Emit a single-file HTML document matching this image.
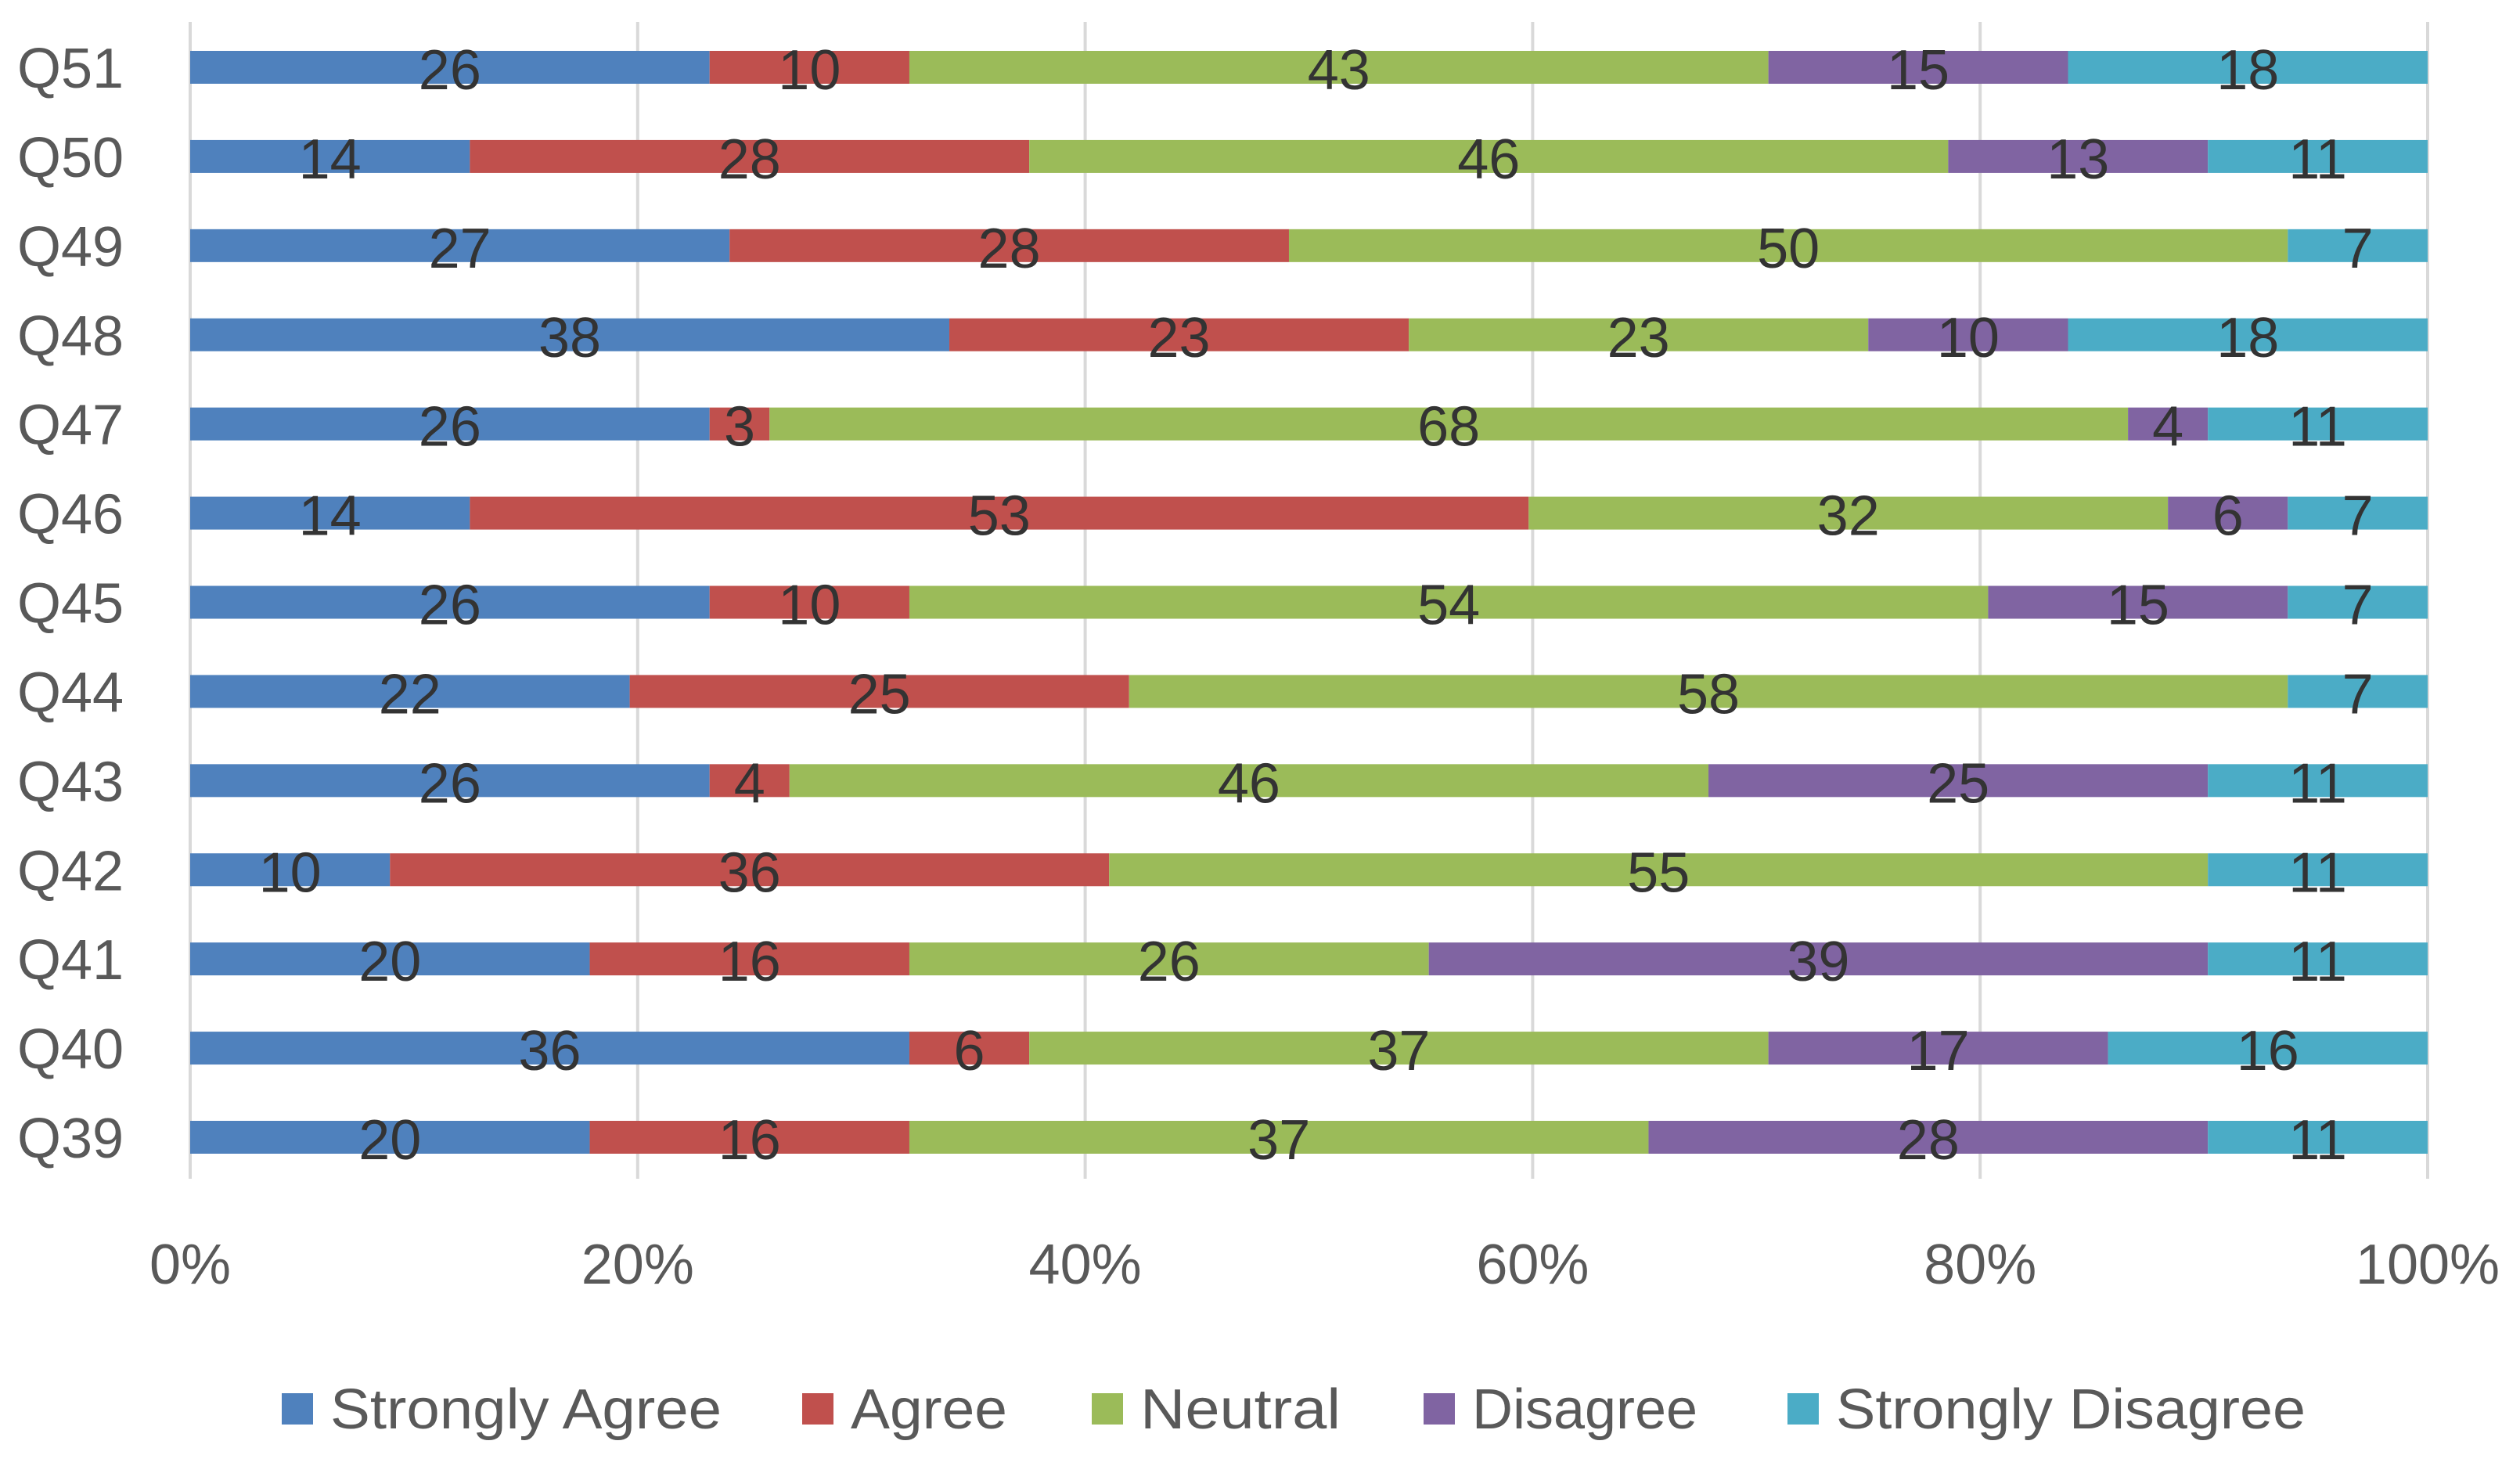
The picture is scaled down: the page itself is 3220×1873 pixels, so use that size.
<!DOCTYPE html>
<html><head><meta charset="utf-8"><style>
html,body{margin:0;padding:0;background:#fff;}
svg{display:block;font-family:"Liberation Sans",sans-serif;}
</style></head><body>
<svg id="chart" width="3220" height="1873" viewBox="0 0 3220 1873" xmlns="http://www.w3.org/2000/svg"></svg>
<script>
const categories = ["Q51","Q50","Q49","Q48","Q47","Q46","Q45","Q44","Q43","Q42","Q41","Q40","Q39"];
const seriesNames = ["Strongly Agree","Agree","Neutral","Disagree","Strongly Disagree"];
const stronglyAgree = [26,14,27,38,26,14,26,22,26,10,20,36,20];
const agree = [10,28,28,23,3,53,10,25,4,36,16,6,16];
const neutral = [43,46,50,23,68,32,54,58,46,55,26,37,37];
const disagree = [15,13,0,10,4,6,15,0,25,0,39,17,28];
const stronglyDisagree = [18,11,7,18,11,7,7,7,11,11,11,16,11];
const tickLabels = ["0%","20%","40%","60%","80%","100%"];
const tickValues = [0,20,40,60,80,100];

const series = [stronglyAgree, agree, neutral, disagree, stronglyDisagree];
const colors = ["#4F81BD","#C0504D","#9BBB59","#8064A2","#4BACC6"];
const svg = document.getElementById('chart');
const NS = "http://www.w3.org/2000/svg";
const X0 = 243, X1 = 3102, TOP = 28, BOT = 1506;
const firstY = 86, lastY = 1453, barH = 42;
function xScale(p){ return X0 + (X1 - X0) * p / 100; }
function yScale(i){ return firstY + (lastY - firstY) * i / (categories.length - 1); }
function mk(tag, attrs){ const e = document.createElementNS(NS, tag); for (const k in attrs) e.setAttribute(k, attrs[k]); svg.appendChild(e); return e; }

tickValues.forEach((v, i) => {
  const g = mk('line', {x1: xScale(v), x2: xScale(v), y1: TOP, y2: BOT, stroke: '#d9d9d9', 'stroke-width': 4});
  
  
  const t = mk('text', {x: xScale(v), y: 1640, 'text-anchor': 'middle', 'font-size': 72, fill: '#595959'});
  t.textContent = tickLabels[i];
  
  
});

categories.forEach((cat, i) => {
  const yc = yScale(i);
  const total = series.reduce((s, arr) => s + arr[i], 0);
  const cl = mk('text', {x: 22, y: yc + 26, 'font-size': 72, fill: '#595959'});
  cl.textContent = cat;
  
  
  let acc = 0;
  series.forEach((arr, s) => {
    const v = arr[i];
    if (v <= 0) return;
    const a = xScale(acc / total * 100), b = xScale((acc + v) / total * 100);
    const r = mk('rect', {x: a, y: yc - barH / 2, width: b - a, height: barH, fill: colors[s]});
    
    
    const t = mk('text', {x: (a + b) / 2, y: yc + 28, 'text-anchor': 'middle', 'font-size': 72, fill: '#333333'});
    t.textContent = v;
    
    
    acc += v;
  });
});

const legendSq = [360, 1025, 1395, 1819, 2284];
const legendLen = [500, 200, 256, 288, 600];
seriesNames.forEach((n, s) => {
  const r = mk('rect', {x: legendSq[s], y: 1780, width: 40, height: 40, fill: colors[s]});
  
  
  const t = mk('text', {x: legendSq[s] + 62, y: 1825, 'font-size': 72, fill: '#595959', textLength: legendLen[s], lengthAdjust: 'spacingAndGlyphs'});
  t.textContent = n;
  
  
});
</script>
</body></html>
